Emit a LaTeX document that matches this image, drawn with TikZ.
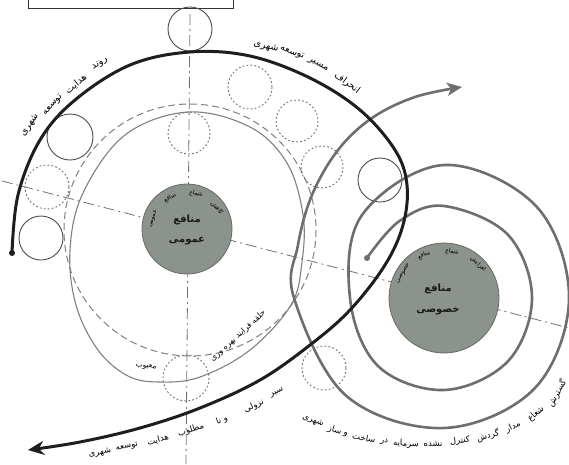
\documentclass[tikz,border=0pt]{standalone}
\usepackage{fontspec}
\usetikzlibrary{arrows.meta}
\newfontfamily\farsifont[Script=Arabic]{DejaVu Sans}
\TeXXeTstate=1
\newcommand\rtltxt[1]{\beginR#1\endR}
\definecolor{intfill}{RGB}{140,146,140}
\definecolor{intedge}{RGB}{100,106,100}
\definecolor{spiralgray}{RGB}{110,110,110}
\definecolor{darkline}{RGB}{30,30,30}
\begin{document}
\begin{tikzpicture}[x=1pt,y=-1pt,
  axis/.style={draw=black!55, line width=0.8pt, dash pattern=on 11pt off 4pt on 2pt off 4pt},
  bigdash/.style={draw=black!50, line width=1pt, dash pattern=on 7pt off 4pt},
  egg/.style={draw=black!50, line width=1.1pt},
  solidsmall/.style={draw=black!70, line width=0.9pt},
  dotsmall/.style={draw=black!55, line width=0.9pt, dash pattern=on 1.8pt off 2.2pt},
  interest/.style={circle, fill=intfill, draw=intedge, line width=0.8pt, inner sep=0pt},
  lbl/.style={font=\farsifont\fontsize{9.5}{10}\selectfont, inner sep=0pt, text=black},
  slbl/.style={font=\farsifont\fontsize{8.5}{9}\selectfont, inner sep=0pt, text=black},
  arclbl/.style={font=\farsifont\fontsize{6}{6}\selectfont, inner sep=0pt, text=black},
  inlbl/.style={font=\farsifont\bfseries\fontsize{10}{10}\selectfont, inner sep=0pt, text=black!90}
]
\useasboundingbox (0,0) rectangle (569,464);
\fill[white] (0,0) rectangle (569,464);

% top box (cut off)
\draw[black!80, line width=0.7pt] (28,-1) -- (28,8) -- (233,8) -- (233,-1);

% axes
\coordinate (axT) at (190,14);
\coordinate (axB) at (186,464);
\coordinate (axL) at (2,181);
\coordinate (axR) at (569,328);
\draw[axis] (axT) -- (axB);
\draw[axis] (axL) -- (axR);

% big dashed circle and egg loop
\draw[bigdash] (190,230) circle[radius=126];
\draw[egg] plot[smooth cycle, tension=0.6] coordinates {(188,112) (250,127) (287,163) (303,215) (302,262) (291,305) (250,350) (200,377) (160,382) (128,376) (98,350) (76,305) (70,250) (83,193) (125,135)};

% small circles
\draw[solidsmall] (190,29) circle[radius=22];
\draw[solidsmall] (70,137) circle[radius=23];
\draw[solidsmall] (41,238) circle[radius=22];
\draw[solidsmall] (380,180) circle[radius=22];
\draw[dotsmall] (47,187) circle[radius=22];
\draw[dotsmall] (189,133) circle[radius=21];
\draw[dotsmall] (250,87) circle[radius=22];
\draw[dotsmall] (297,121) circle[radius=21];
\draw[dotsmall] (322,167) circle[radius=21];
\draw[dotsmall] (186,378) circle[radius=23];
\draw[dotsmall] (324,368) circle[radius=22];

% interest circles
\node[interest, minimum size=90pt] (pub) at (187,229) {};
\node[interest, minimum size=110pt] (priv) at (444,298) {};

% spiral (gray arrow)
\coordinate (spStart) at (367,258);
\coordinate (spEnd) at (462,87);
\draw[spiralgray, line width=2.6pt, -{Stealth[length=15pt,width=13pt,inset=4pt]}]
  plot[smooth, tension=0.6] coordinates {(spStart) (399.5,221) (444,206) (507.6,234.4) (532,298) (507.6,361.6) (444,390) (378,366) (350,298) (362,215) (444,165) (536,206) (569,298) (534.5,388.5) (444,428) (346,395.6) (294,298) (298,245) (312,195) (338,150) (372,118) (415,97) (spEnd)};
\fill[spiralgray] (spStart) circle[radius=3];

% black S arrow
\coordinate (bkStart) at (12,253);
\coordinate (bkEnd) at (28,450);
\draw[darkline, line width=3pt, -{Stealth[length=16pt,width=14pt,inset=5pt]}]
  plot[smooth, tension=0.6] coordinates {(bkStart) (18,195) (40,140) (75,100) (130,65) (190,52) (250,56) (310,78) (360,110) (395,150) (407,185) (403,225) (385,265) (350,310) (310,345) (260,380) (200,408) (140,428) (80,442) (bkEnd)};
\fill[darkline] (bkStart) circle[radius=3];

% texts in interest circles
\node[inlbl] (pubA) at (187,220) {\rtltxt{منافع}};
\node[inlbl] (pubB) at (187,241) {\rtltxt{عمومی}};
\node[arclbl, rotate=72] (pa1) at (153,219) {\rtltxt{عمومی}};
\node[arclbl, rotate=30] (pa2) at (170,198) {\rtltxt{منافع}};
\node[arclbl, rotate=-10] (pa3) at (196,194) {\rtltxt{شعاع}};
\node[arclbl, rotate=-50] (pa4) at (217,208) {\rtltxt{کاهش}};

\node[inlbl] (privA) at (438,289) {\rtltxt{منافع}};
\node[inlbl] (privB) at (438,311) {\rtltxt{خصوصی}};
\node[arclbl, rotate=60] (pr1) at (403,273) {\rtltxt{خصوصی}};
\node[arclbl, rotate=25] (pr2) at (424,255) {\rtltxt{منافع}};
\node[arclbl, rotate=-10] (pr3) at (452,252) {\rtltxt{شعاع}};
\node[arclbl, rotate=-45] (pr4) at (478,264) {\rtltxt{افزایش}};

% label: rawand hedayat
\node[lbl, rotate=55] (w1d) at (30,125) {\rtltxt{شهری}};
\node[lbl, rotate=48] (w1c) at (53,105) {\rtltxt{توسعه}};
\node[lbl, rotate=40] (w1b) at (76,84) {\rtltxt{هدایت}};
\node[lbl, rotate=32] (w1a) at (100,64) {\rtltxt{روند}};
% label: enheraf
\node[lbl, rotate=-14] (w2d) at (266,47) {\rtltxt{شهری}};
\node[lbl, rotate=-20] (w2c) at (292,53) {\rtltxt{توسعه}};
\node[lbl, rotate=-28] (w2b) at (318,65) {\rtltxt{مسیر}};
\node[lbl, rotate=-37] (w2a) at (347,83) {\rtltxt{انحراف}};
% label: seyr nozooli
\node[slbl, rotate=28] (w3a) at (277,393) {\rtltxt{سیر}};
\node[slbl, rotate=25] (w3b) at (254,406) {\rtltxt{نزولی}};
\node[slbl, rotate=21] (w3c) at (222,420) {\rtltxt{و نا}};
\node[slbl, rotate=18] (w3d) at (191,430) {\rtltxt{مطلوب}};
\node[slbl, rotate=15] (w3e) at (158,440) {\rtltxt{هدایت}};
\node[slbl, rotate=12] (w3f) at (127,447) {\rtltxt{توسعه}};
\node[slbl, rotate=9] (w3g) at (100,453) {\rtltxt{شهری}};
% label: halghe
\node[slbl, rotate=42, font=\farsifont\fontsize{8}{8}\selectfont] (l4) at (238,336) {\rtltxt{حلقه فرایند بهره وری}};
\node[slbl, rotate=-8, font=\farsifont\fontsize{7.5}{8}\selectfont] (l5) at (146,367) {\rtltxt{معیوب}};
% label: gostaresh
\node[slbl, rotate=60] (w6a) at (557,393) {\rtltxt{گسترش}};
\node[slbl, rotate=42] (w6b) at (536,414) {\rtltxt{شعاع}};
\node[slbl, rotate=25] (w6c) at (513,427) {\rtltxt{مدار}};
\node[slbl, rotate=15] (w6d) at (488,436) {\rtltxt{گردش}};
\node[slbl, rotate=7] (w6e) at (460,441) {\rtltxt{کنترل}};
\node[slbl, rotate=2] (w6f) at (433,444) {\rtltxt{نشده}};
\node[slbl, rotate=-2] (w6g) at (406,444) {\rtltxt{سرمایه}};
\node[slbl, rotate=-6] (w6h) at (384,442) {\rtltxt{در}};
\node[slbl, rotate=-11] (w6i) at (364,438) {\rtltxt{ساخت}};
\node[slbl, rotate=-16] (w6j) at (338,431) {\rtltxt{و ساز}};
\node[slbl, rotate=-22] (w6k) at (313,421) {\rtltxt{شهری}};
\end{tikzpicture}
\end{document}
